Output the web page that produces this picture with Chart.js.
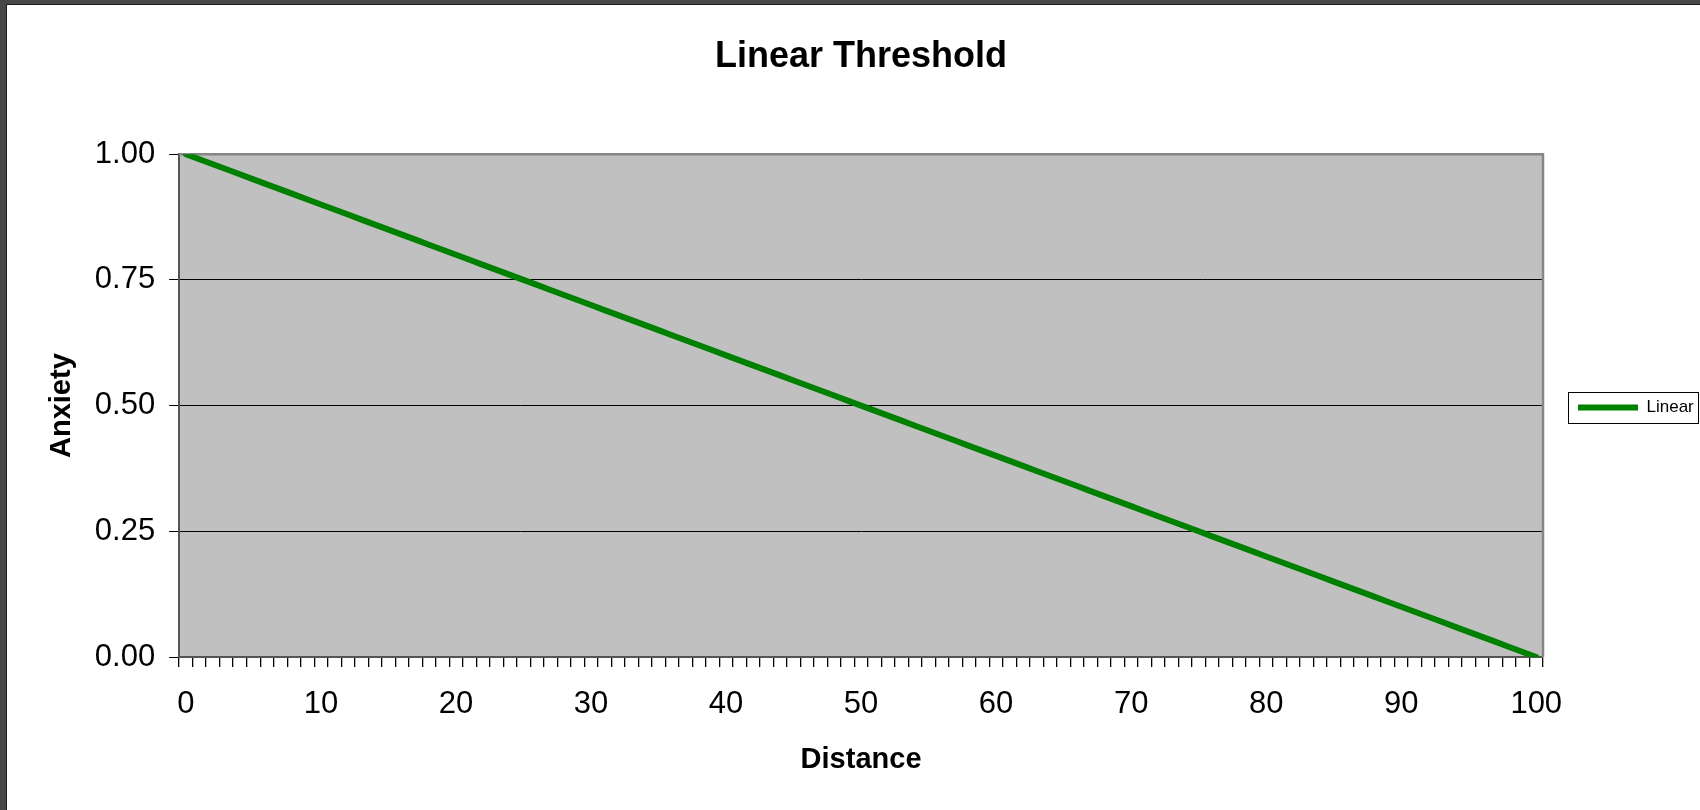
<!DOCTYPE html>
<html>
<head>
<meta charset="utf-8">
<title>Linear Threshold</title>
<script src="https://cdn.jsdelivr.net/npm/chart.js@4.4.1/dist/chart.umd.min.js"></script>
<style>
  html, body { margin: 0; padding: 0; width: 1700px; height: 810px; overflow: hidden; background: #474747; }
  #frame { position: absolute; left: 6px; top: 4px; width: 1694px; height: 806px;
           border-left: 1px solid #1c1c1c; border-top: 1px solid #1c1c1c; background: #ffffff; }
  #wrap { position: absolute; left: 0; top: 0; width: 1693px; height: 805px; }
</style>
</head>
<body>
<div id="frame"><div id="wrap"><canvas id="chart"></canvas></div></div>
<script>
// Distance categories along the x axis
const distance = [
  0, 1, 2, 3, 4, 5, 6, 7, 8, 9,
  10, 11, 12, 13, 14, 15, 16, 17, 18, 19,
  20, 21, 22, 23, 24, 25, 26, 27, 28, 29,
  30, 31, 32, 33, 34, 35, 36, 37, 38, 39,
  40, 41, 42, 43, 44, 45, 46, 47, 48, 49,
  50, 51, 52, 53, 54, 55, 56, 57, 58, 59,
  60, 61, 62, 63, 64, 65, 66, 67, 68, 69,
  70, 71, 72, 73, 74, 75, 76, 77, 78, 79,
  80, 81, 82, 83, 84, 85, 86, 87, 88, 89,
  90, 91, 92, 93, 94, 95, 96, 97, 98, 99,
  100
];

// Anxiety level for each distance
const anxiety = [
  1.00, 0.99, 0.98, 0.97, 0.96, 0.95, 0.94, 0.93, 0.92, 0.91,
  0.90, 0.89, 0.88, 0.87, 0.86, 0.85, 0.84, 0.83, 0.82, 0.81,
  0.80, 0.79, 0.78, 0.77, 0.76, 0.75, 0.74, 0.73, 0.72, 0.71,
  0.70, 0.69, 0.68, 0.67, 0.66, 0.65, 0.64, 0.63, 0.62, 0.61,
  0.60, 0.59, 0.58, 0.57, 0.56, 0.55, 0.54, 0.53, 0.52, 0.51,
  0.50, 0.49, 0.48, 0.47, 0.46, 0.45, 0.44, 0.43, 0.42, 0.41,
  0.40, 0.39, 0.38, 0.37, 0.36, 0.35, 0.34, 0.33, 0.32, 0.31,
  0.30, 0.29, 0.28, 0.27, 0.26, 0.25, 0.24, 0.23, 0.22, 0.21,
  0.20, 0.19, 0.18, 0.17, 0.16, 0.15, 0.14, 0.13, 0.12, 0.11,
  0.10, 0.09, 0.08, 0.07, 0.06, 0.05, 0.04, 0.03, 0.02, 0.01,
  0.00
];

// Labelled distances on the x axis and values on the y axis
const xTickLabels = [0, 10, 20, 30, 40, 50, 60, 70, 80, 90, 100];
const yTickValues = [0.00, 0.25, 0.50, 0.75, 1.00];

const FONT = "'Liberation Sans', Arial, sans-serif";

// Grey plot area, its top/right frame, and the box around the legend
const plotFrame = {
  id: 'plotFrame',
  beforeDraw(chart) {
    const { ctx, chartArea: a } = chart;
    ctx.save();
    ctx.fillStyle = '#C0C0C0';
    ctx.fillRect(a.left, a.top, a.right - a.left, a.bottom - a.top);
    ctx.restore();
  },
  beforeDatasetsDraw(chart) {
    const { ctx, chartArea: a } = chart;
    ctx.save();
    ctx.strokeStyle = '#868686';
    ctx.lineWidth = 2.5;
    ctx.beginPath();
    ctx.moveTo(a.left, a.top);
    ctx.lineTo(a.right, a.top);
    ctx.lineTo(a.right, a.bottom);
    ctx.stroke();
    ctx.restore();
  },
  afterDraw(chart) {
    const hb = chart.legend && chart.legend.legendHitBoxes && chart.legend.legendHitBoxes[0];
    if (!hb) return;
    const { ctx } = chart;
    ctx.save();
    ctx.strokeStyle = '#000000';
    ctx.lineWidth = 1;
    const x = Math.round(hb.left - 10) + 0.5;
    const y = Math.round(hb.top - 7) + 0.5;
    ctx.strokeRect(x, y, 130, 31);
    ctx.restore();
  }
};

new Chart(document.getElementById('chart'), {
  type: 'line',
  data: {
    labels: distance,
    datasets: [{
      label: 'Linear',
      data: anxiety,
      borderColor: '#008000',
      backgroundColor: '#008000',
      borderWidth: 6,
      borderCapStyle: 'round',
      borderJoinStyle: 'round',
      pointRadius: 0,
      pointHoverRadius: 0,
      tension: 0,
      fill: false
    }]
  },
  plugins: [plotFrame],
  options: {
    responsive: true,
    maintainAspectRatio: false,
    animation: false,
    events: [],
    layout: { padding: 0 },
    plugins: {
      title: {
        display: true,
        text: 'Linear Threshold',
        fullSize: false,
        color: '#000000',
        font: { family: FONT, size: 36, weight: 'bold' },
        padding: { top: 30, bottom: 76 }
      },
      legend: {
        display: true,
        position: 'right',
        align: 'center',
        maxWidth: 157,
        labels: {
          usePointStyle: true,
          pointStyle: 'line',
          pointStyleWidth: 60,
          boxHeight: 17,
          padding: 35,
          color: '#000000',
          font: { family: FONT, size: 17 }
        }
      },
      tooltip: { enabled: false }
    },
    scales: {
      x: {
        type: 'category',
        offset: true,
        grid: {
          offset: true,
          drawOnChartArea: false,
          drawTicks: true,
          tickLength: 10,
          tickColor: '#000000',
          lineWidth: 1.3
        },
        border: { display: true, color: '#555555', width: 2 },
        ticks: {
          autoSkip: false,
          maxRotation: 0,
          minRotation: 0,
          padding: 19,
          color: '#000000',
          font: { family: FONT, size: 31 },
          callback: (v, i) => xTickLabels.includes(distance[i]) ? String(distance[i]) : ''
        },
        title: {
          display: true,
          text: 'Distance',
          color: '#000000',
          font: { family: FONT, size: 29, weight: 'bold' },
          padding: { top: 0, bottom: 33 }
        }
      },
      y: {
        min: 0,
        max: 1,
        afterBuildTicks: (scale) => { scale.ticks = yTickValues.map(v => ({ value: v })); },
        grid: {
          drawTicks: true,
          tickLength: 10,
          tickColor: '#000000',
          color: (ctx) => (ctx.tick && (ctx.tick.value === 0 || ctx.tick.value === 1)) ? 'rgba(0,0,0,0)' : '#000000',
          lineWidth: 1
        },
        border: { display: true, color: '#555555', width: 2 },
        ticks: {
          padding: 14,
          color: '#000000',
          font: { family: FONT, size: 31 },
          callback: (v) => Number(v).toFixed(2)
        },
        title: {
          display: true,
          text: 'Anxiety',
          color: '#000000',
          font: { family: FONT, size: 29, weight: 'bold' },
          padding: { top: 38, bottom: 1 }
        }
      }
    }
  }
});
</script>
</body>
</html>
